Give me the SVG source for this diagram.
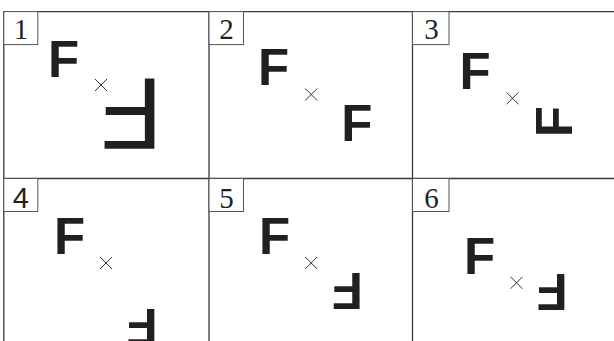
<svg xmlns="http://www.w3.org/2000/svg" width="614" height="341" viewBox="0 0 614 341">
<style>
.frame{stroke:#3a3a3a;stroke-width:1.3;fill:none}
.lbl{fill:#fff;stroke:#555;stroke-width:1}
.num{font-family:"Liberation Serif","Times New Roman",serif;font-size:29px;fill:#231f20;text-anchor:middle}
.numsans{font-family:"Liberation Sans",Arial,sans-serif;font-size:29px;fill:#231f20;text-anchor:middle}
.f{font-family:"Liberation Sans",Arial,sans-serif;font-weight:bold;font-size:51px;fill:#231f20}
.fbig{font-family:"Liberation Sans",Arial,sans-serif;font-weight:normal;font-size:102px;fill:#231f20}
.x{stroke:#333;stroke-width:1;fill:none}
</style>
<defs>
<path id="cross" d="M-6,-6 L6,6 M6,-6 L-6,6"/>
</defs>
<rect width="614" height="341" fill="#fff"/>
<g id="frame" class="frame">
<path d="M3.8,341 V11.6 H614"/>
<path d="M3.8,178.5 H614"/>
<path d="M209,11.6 V341"/>
<path d="M412.5,11.6 V341"/>
</g>
<g id="panel1">
<rect class="lbl" x="3.8" y="11.6" width="34" height="33"/>
<text class="num" x="21" y="38.5">1</text>
<g transform="translate(51.7,40)"><text class="f" x="-3.7" y="36.5">F</text></g>
<use href="#cross" class="x" transform="translate(101,85)"/>
<g transform="translate(130.5,114.2) rotate(180)"><text class="fbig" x="-32.2" y="36.5">F</text></g>
</g>
<g id="panel2">
<rect class="lbl" x="209" y="11.6" width="34.5" height="33"/>
<text class="num" x="226.5" y="38.5">2</text>
<g transform="translate(261.7,48)"><text class="f" x="-3.7" y="36.5">F</text></g>
<use href="#cross" class="x" transform="translate(311.2,94.5)"/>
<g transform="translate(345,104)"><text class="f" x="-3.7" y="36.5">F</text></g>
</g>
<g id="panel3">
<rect class="lbl" x="412.5" y="11.6" width="36.5" height="33"/>
<text class="num" x="431.5" y="38.5">3</text>
<g transform="translate(463.3,52)"><text class="f" x="-3.7" y="36.5">F</text></g>
<use href="#cross" class="x" transform="translate(512.5,98.3)"/>
<g transform="translate(553.3,121.2) rotate(-90) translate(-12.4,-18.25)"><text class="f" x="-3.7" y="36.5">F</text></g>
</g>
<g id="panel4">
<rect class="lbl" x="3.8" y="178.5" width="34" height="33"/>
<text class="numsans" x="20.8" y="208">4</text>
<g transform="translate(57.7,217)"><text class="f" x="-3.7" y="36.5">F</text></g>
<use href="#cross" class="x" transform="translate(106,263)"/>
<g transform="translate(141.6,327.25) rotate(180) translate(-12.4,-18.25)"><text class="f" x="-3.7" y="36.5">F</text></g>
</g>
<g id="panel5">
<rect class="lbl" x="209" y="178.5" width="34.5" height="33"/>
<text class="num" x="226.5" y="207.5">5</text>
<g transform="translate(262.7,217)"><text class="f" x="-3.7" y="36.5">F</text></g>
<use href="#cross" class="x" transform="translate(311.2,263)"/>
<g transform="translate(346.8,291.7) rotate(180) translate(-12.4,-18.25)"><text class="f" x="-3.7" y="36.5">F</text></g>
</g>
<g id="panel6">
<rect class="lbl" x="412.5" y="178.5" width="36.5" height="33"/>
<text class="num" x="431.5" y="207.5">6</text>
<g transform="translate(467.7,237)"><text class="f" x="-3.7" y="36.5">F</text></g>
<use href="#cross" class="x" transform="translate(516.5,282.8)"/>
<g transform="translate(551.7,292.5) rotate(180) translate(-12.4,-18.25)"><text class="f" x="-3.7" y="36.5">F</text></g>
</g>
</svg>
